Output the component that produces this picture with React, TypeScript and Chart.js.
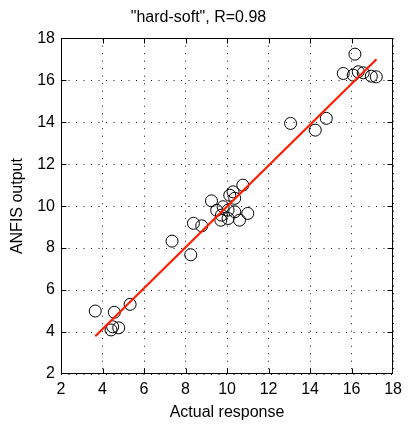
import React, { useEffect, useRef } from "react";
import { Chart, registerables } from "chart.js";

Chart.register(...registerables);

const TITLE = '"hard-soft", R=0.98';
const X_LABEL = "Actual response";
const Y_LABEL = "ANFIS output";
const AXIS_MIN = 2;
const AXIS_MAX = 18;
const TICK_STEP = 2;

const actual = [3.65, 4.57, 4.49, 4.78, 4.41, 5.33, 7.35, 8.25, 8.38, 8.78, 9.25, 9.5, 9.7, 9.73, 9.81, 10.05, 10.05, 10.13, 10.29, 10.37, 10.37, 10.6, 10.76, 11.0, 13.06, 14.25, 14.78, 15.6, 16.08, 16.16, 16.32, 16.56, 16.95, 17.19];
const anfis = [5.0, 4.94, 4.25, 4.2, 4.1, 5.32, 8.33, 7.68, 9.18, 9.06, 10.25, 9.8, 9.33, 9.57, 9.97, 9.81, 9.41, 10.52, 10.68, 10.37, 9.73, 9.33, 11.0, 9.65, 13.94, 13.62, 14.18, 16.32, 16.24, 17.24, 16.4, 16.35, 16.19, 16.16];

const fitX = [3.65, 17.2];
const fitY = [3.8, 17.0];

const FONT = { family: "'Liberation Sans', Arial, sans-serif", size: 16 };

const frameTicks = {
  id: "frameTicks",
  beforeDatasetsDraw(chart: any) {
    const { ctx, chartArea, scales } = chart;
    const l = Math.round(chartArea.left) + 0.5;
    const r = Math.round(chartArea.right) - 0.5;
    const t = Math.round(chartArea.top) + 0.5;
    const b = Math.round(chartArea.bottom) - 0.5;
    const len = 5;
    ctx.save();
    ctx.strokeStyle = "#000";
    ctx.lineWidth = 1;
    ctx.setLineDash([]);
    ctx.beginPath();
    for (let v = AXIS_MIN + TICK_STEP; v < AXIS_MAX; v += TICK_STEP) {
      const px = Math.round(scales.x.getPixelForValue(v)) + 0.5;
      ctx.moveTo(px, b);
      ctx.lineTo(px, b - len);
      ctx.moveTo(px, t);
      ctx.lineTo(px, t + len);
      const py = Math.round(scales.y.getPixelForValue(v)) + 0.5;
      ctx.moveTo(l, py);
      ctx.lineTo(l + len, py);
      ctx.moveTo(r, py);
      ctx.lineTo(r - len, py);
    }
    ctx.stroke();
    ctx.strokeRect(l, t, r - l, b - t);
    ctx.restore();
  },
};

export default function App() {
  const ref = useRef<HTMLCanvasElement>(null);

  useEffect(() => {
    if (!ref.current) return;
    const points = actual.map((x, i) => ({ x, y: anfis[i] }));
    const fit = fitX.map((x, i) => ({ x, y: fitY[i] }));
    const gridCommon = {
      color: "#111",
      lineWidth: 1,
      drawTicks: false,
    };
    const chart = new Chart(ref.current, {
      type: "scatter",
      data: {
        datasets: [
          {
            type: "line",
            data: fit,
            borderColor: "rgb(255,30,0)",
            borderWidth: 2.2,
            pointRadius: 0,
            showLine: true,
            fill: false,
            order: 0,
          } as any,
          {
            data: points,
            pointRadius: 6,
            pointHoverRadius: 6,
            borderWidth: 1,
            borderColor: "#000",
            backgroundColor: "rgba(0,0,0,0)",
            order: 1,
          },
        ],
      },
      plugins: [frameTicks],
      options: {
        responsive: false,
        animation: false,
        events: [],
        layout: { padding: { left: 0, right: 11, top: 0, bottom: 0 } },
        plugins: {
          legend: { display: false },
          tooltip: { enabled: false },
          title: {
            display: true,
            text: TITLE,
            color: "#000",
            font: { ...FONT, weight: "normal" },
            padding: { top: 8, bottom: 11 },
          },
        },
        scales: {
          x: {
            type: "linear",
            min: AXIS_MIN,
            max: AXIS_MAX,
            border: { display: false, dash: [1, 6.5] },
            grid: gridCommon,
            ticks: { stepSize: TICK_STEP, color: "#000", font: FONT, padding: 6, maxRotation: 0 },
            title: { display: true, text: X_LABEL, color: "#000", font: FONT, padding: { top: 0, bottom: 4 } },
            afterFit(scale: any) {
              scale.height = 52;
            },
          },
          y: {
            type: "linear",
            min: AXIS_MIN,
            max: AXIS_MAX,
            border: { display: false, dash: [1, 6.5] },
            grid: gridCommon,
            ticks: { stepSize: TICK_STEP, color: "#000", font: FONT, padding: 6 },
            title: { display: true, text: Y_LABEL, color: "#000", font: FONT, padding: { top: 8, bottom: 0 } },
            afterFit(scale: any) {
              scale.width = 61;
            },
          },
        },
      },
    });
    return () => chart.destroy();
  }, []);

  return (
    <div style={{ position: "absolute", left: 0, top: 0, width: 408, height: 426, background: "#fff" }}>
      <canvas ref={ref} width={408} height={426} />
    </div>
  );
}
